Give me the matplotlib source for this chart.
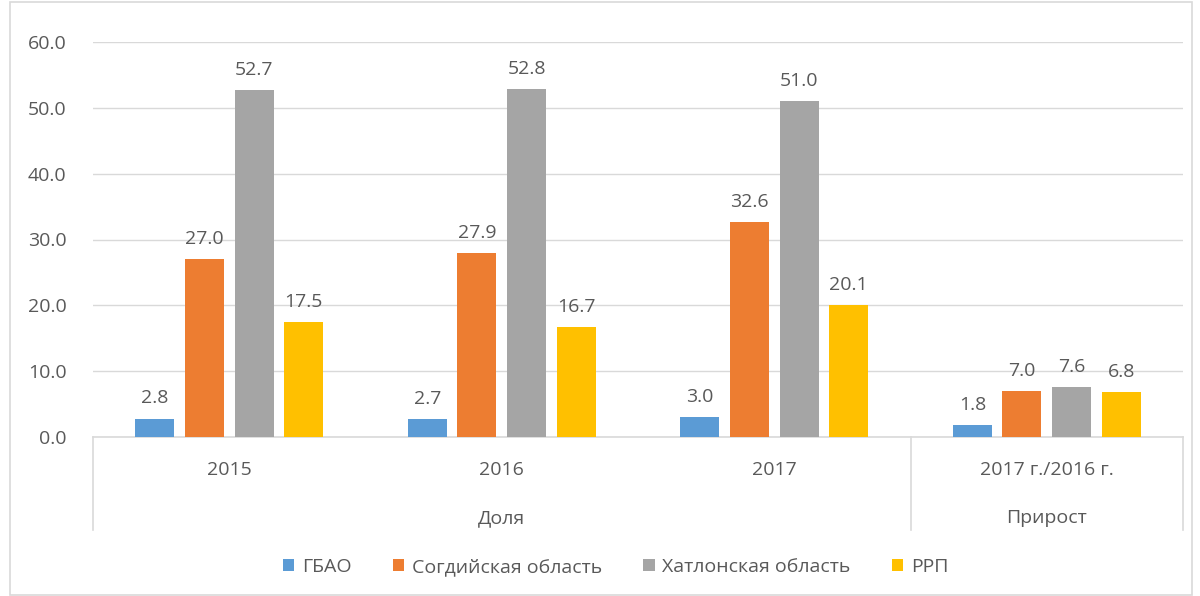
import matplotlib
matplotlib.use("Agg")
import matplotlib.pyplot as plt
import numpy as np
from matplotlib.patches import Rectangle

plt.rcParams['font.family'] = ['Open Sans', 'DejaVu Sans']

categories = ['2015', '2016', '2017', '2017 г./2016 г.']
groups = ['Доля', 'Прирост']
series = ['ГБАО', 'Согдийская область', 'Хатлонская область', 'РРП']
gbao = [2.8, 2.7, 3.0, 1.8]
sogd = [27.0, 27.9, 32.6, 7.0]
khatlon = [52.7, 52.8, 51.0, 7.6]
rrp = [17.5, 16.7, 20.1, 6.8]
colors = ['#5b9bd5', '#ed7d31', '#a5a5a5', '#ffc000']
txt = '#595959'
line = '#d9d9d9'
fs = 14

fig = plt.figure(figsize=(12, 5.96), dpi=100)
ax = fig.add_axes([93/1200, 1 - 437/596, 1090/1200, 395/596])

x = np.arange(len(categories))
w = 0.143
offs = [-0.273, -0.091, 0.091, 0.273]
for vals, c, o, name in zip([gbao, sogd, khatlon, rrp], colors, offs, series):
    bars = ax.bar(x + o, vals, w, color=c, label=name, zorder=3)
    for b, v in zip(bars, vals):
        ax.annotate(f'{v:.1f}', (b.get_x() + b.get_width() / 2, v),
                    xytext=(0, 8), textcoords='offset points',
                    ha='center', va='bottom', fontsize=fs, color=txt)

ax.set_xlim(-0.5, 3.5)
ax.set_ylim(0, 60)
ax.set_yticks(np.arange(0, 61, 10))
ax.set_yticklabels([f'{t:.1f}' for t in np.arange(0, 61, 10)])
ax.tick_params(axis='y', length=0, pad=19, labelsize=fs, labelcolor=txt)
ax.set_xticks([])
ax.grid(axis='y', color=line, linewidth=1, zorder=0)
for s in ['top', 'right', 'left']:
    ax.spines[s].set_visible(False)
ax.spines['bottom'].set_color(line)
ax.spines['bottom'].set_linewidth(1.2)

# two-level category axis
tr = ax.get_xaxis_transform()
for i, c in enumerate(categories):
    ax.text(i, -0.083, c, transform=tr, ha='center', va='center',
            fontsize=fs, color=txt)
ax.text(1, -0.205, groups[0], transform=tr, ha='center', va='center',
        fontsize=fs, color=txt)
ax.text(3, -0.205, groups[1], transform=tr, ha='center', va='center',
        fontsize=fs, color=txt)
for xv in [-0.5, 2.5, 3.5]:
    ax.plot([xv, xv], [0, -0.235], transform=tr, color=line,
            linewidth=1.2, clip_on=False)

leg = fig.legend(loc='center', bbox_to_anchor=(0.513, 1 - 567/596), ncol=4,
                 frameon=False, fontsize=fs, handlelength=0.6, handleheight=0.6,
                 handletextpad=0.4, columnspacing=2.1)
for t in leg.get_texts():
    t.set_color(txt)

fig.patches.append(Rectangle((10/1200, 0.002), 1182/1200, 0.994,
                             transform=fig.transFigure, fill=False,
                             edgecolor=line, linewidth=1.2))

fig.savefig('out.png', dpi=100)
